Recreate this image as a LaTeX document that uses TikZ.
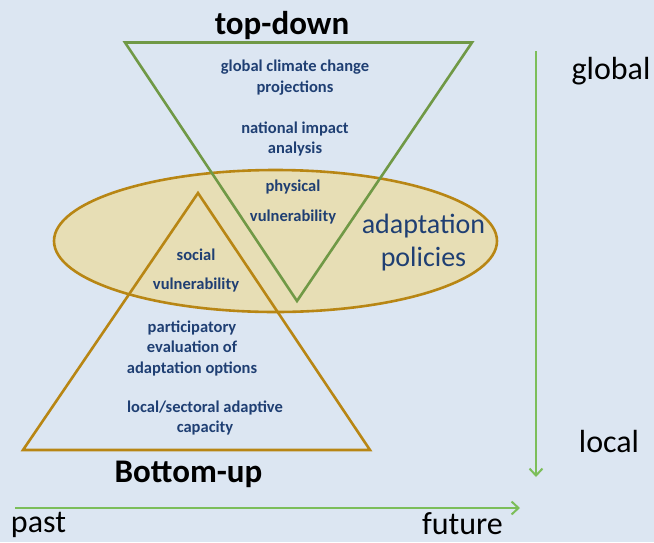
\documentclass[tikz,border=0pt]{standalone}
\usepackage{fontspec}
\setmainfont{Carlito}
\usetikzlibrary{arrows.meta}
\definecolor{bgc}{RGB}{220,230,242}
\definecolor{tgreen}{RGB}{112,153,70}
\definecolor{agreen}{RGB}{124,190,90}
\definecolor{gold}{RGB}{184,134,20}
\definecolor{efill}{RGB}{231,222,181}
\definecolor{dblue}{RGB}{31,63,115}
\tikzset{
  bluetxt/.style={text=dblue, font=\bfseries\fontsize{16.5}{20.5}\selectfont, align=center, inner sep=0pt},
  bigblue/.style={text=dblue, font=\fontsize{28}{33}\selectfont, align=center, inner sep=0pt},
  title/.style={text=black, font=\bfseries\fontsize{33}{36}\selectfont, inner sep=0pt},
  axislbl/.style={text=black, font=\fontsize{32}{36}\selectfont, inner sep=0pt},
  tri/.style={line width=2.6pt, line join=miter},
  axisarrow/.style={draw=agreen, line width=2pt, -{Straight Barb[length=7pt,width=13pt,line width=2pt]}}
}
\begin{document}
\begin{tikzpicture}[x=1pt,y=-1pt]
\fill[bgc] (0,0) rectangle (654,542);
\useasboundingbox (0,0) rectangle (654,542);
% ellipse
\draw[draw=gold, line width=2.6pt, fill=efill] (275.5,241) ellipse [x radius=221.5, y radius=71];
% triangles
\coordinate (tl) at (125,42.5);
\coordinate (tr) at (472,42.5);
\coordinate (tb) at (297,301);
\draw[tri, draw=tgreen] (tl) -- (tr) -- (tb) -- cycle;
\coordinate (ba) at (198,193);
\coordinate (bl) at (23,450);
\coordinate (br) at (370,450);
\draw[tri, draw=gold] (ba) -- (br) -- (bl) -- cycle;
% axes
\coordinate (vs) at (536,51);
\coordinate (ve) at (536,477);
\draw[axisarrow] (vs) -- (ve);
\coordinate (hs) at (15,508);
\coordinate (he) at (520,508);
\draw[axisarrow] (hs) -- (he);
% texts
\node[title] (td) at (282,26) {top-down};
\node[title] (bu) at (188.5,474) {Bottom-up};
\node[bluetxt] (gcc) at (295,77.5) {global climate change\\projections};
\node[bluetxt] (nia) at (295,139) {national impact\\analysis};
\node[bluetxt] (phy) at (293,187) {physical};
\node[bluetxt] (phv) at (293,217) {vulnerability};
\node[bluetxt] (soc) at (196,255) {social};
\node[bluetxt] (sov) at (196,285) {vulnerability};
\node[bluetxt] (par) at (192,348) {participatory\\evaluation of\\adaptation options};
\node[bluetxt] (lsa) at (205,418) {local/sectoral adaptive\\capacity};
\node[bigblue] (ap) at (423.5,242.5) {adaptation\\policies};
\node[axislbl] (gl) at (611,71) {global};
\node[axislbl] (lo) at (609,441) {local};
\node[axislbl] (pa) at (38.5,525) {past};
\node[axislbl] (fu) at (462.5,524) {future};
\end{tikzpicture}
\end{document}
